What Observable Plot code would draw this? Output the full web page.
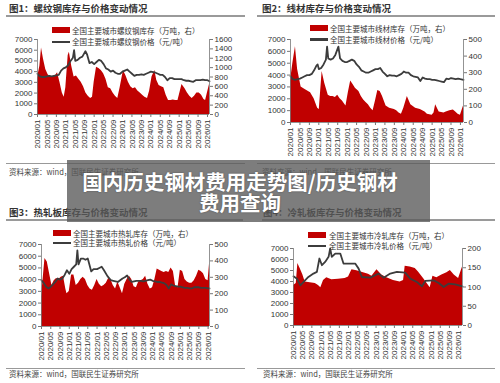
<!DOCTYPE html>
<html><head><meta charset="utf-8">
<script src="https://cdn.jsdelivr.net/npm/d3@7"></script>
<script src="https://cdn.jsdelivr.net/npm/@observablehq/plot@0.6"></script>
<style>
body{margin:0;background:#fff;}
#root{position:relative;width:500px;height:383px;overflow:hidden;background:#fff;font-family:"Noto Sans CJK SC","Noto Sans",sans-serif;}
.abs{position:absolute;}
.title{font-size:9.5px;font-weight:bold;color:#333;white-space:nowrap;line-height:1;}
.rule{height:1.5px;background:#9a9a9a;}
.src{font-size:7.5px;color:#444;white-space:nowrap;line-height:1;}
.leg{font-size:7.5px;color:#333;white-space:nowrap;line-height:1;}
.overlay{background:rgba(88,88,88,0.78);}
.otext{color:#fff;font-weight:bold;font-size:20.5px;line-height:21px;text-align:center;text-shadow:0 0 2px rgba(0,0,0,0.35);}
</style></head><body><div id="root"></div><script>
// ---- tick labels ----
const xTicks = [0,4,8,12,16,20,24,28,32,36,40,44,48,52,56,60,64,68,72];
const xTickLabels = ["2020/01","2020/05","2020/09","2021/01","2021/05","2021/09","2022/01","2022/05","2022/09","2023/01","2023/05","2023/09","2024/01","2024/05","2024/09","2025/01","2025/05","2025/09","2026/01"];
const leftTicks = [0,1000,2000,3000,4000,5000,6000,7000];
const rightTicks1 = [0,200,400,600,800,1000,1200,1400,1600];
const rightTicks2 = [0,100,200,300,400,500];
const rightTicks3 = [0,100,200,300,400,500];
const rightTicks4 = [0,50,100,150,200];

// ---- texts ----
const titles = ["图1：螺纹钢库存与价格变动情况","图2：线材库存与价格变动情况","图3：热轧板库存与价格变动情况","图4：冷轧板库存与价格变动情况"];
const stockLabels = ["全国主要城市螺纹钢库存（万吨，右）","全国主要城市线材库存（万吨，右）","全国主要城市热轧库存（万吨，右）","全国主要城市冷轧库存（万吨，右）"];
const priceLabels = ["全国主要城市螺纹钢价格（元/吨）","全国主要城市线材价格（元/吨）","全国主要城市热轧价格（元/吨）","全国主要城市冷轧价格（元/吨）"];
const sourceText = "资料来源：wind，国联民生证券研究所";
const overlayLines = ["国内历史钢材费用走势图/历史钢材","费用查询"];

// ---- data: [months since 2020/01, value] ----
// 螺纹钢 inventory (万吨, right axis) and price (元/吨, left axis)
const rebarStock = [[0,777],[1,1029],[1.7,1417],[2.5,1189],[3.5,960],[4.5,846],[5.5,800],[6.5,800],[7.5,823],[8.5,891],[9.5,686],[10.5,457],[11.3,366],[12,571],[13,1257],[13.5,1326],[14.5,1029],[15.5,800],[16.5,823],[17.5,754],[18.5,686],[19.5,594],[20.5,457],[21.5,389],[22.5,343],[23.3,366],[24,686],[25,1006],[26,983],[27,937],[28,869],[29,754],[30,571],[31,549],[32,457],[33,389],[34,343],[35,571],[36.4,937],[37.5,823],[38.5,686],[39.5,594],[40.5,549],[41.5,571],[42.5,503],[43.5,457],[44.5,411],[45.5,366],[46.6,343],[47.5,503],[48.5,800],[49.7,937],[50.5,731],[51.5,617],[52.5,594],[53.5,571],[54.5,411],[55.5,297],[56.5,297],[57.5,309],[58.5,297],[59.5,297],[60.3,457],[61.2,640],[62.5,549],[63.5,457],[64.5,389],[65.5,343],[66.5,389],[67.5,457],[68.5,457],[69.5,411],[70.5,320],[71.2,297],[72.85,640]];
const rebarPrice = [[0,3800],[1,3550],[2,3500],[3,3500],[4,3550],[5,3600],[6,3550],[7,3600],[8,3650],[9,3700],[10,4100],[11,4300],[12,4400],[13,4600],[14,5000],[15,5300],[15.5,6000],[16,5000],[17,5100],[18,5300],[19,5400],[20.3,5900],[21,5600],[22,4800],[23,4900],[24,4700],[25,4900],[26,5100],[27,5000],[28,4700],[29,4300],[30,4200],[31,4000],[32,4100],[33,3900],[34,3800],[35,3800],[36,4000],[37,4100],[38,4200],[39,4000],[40,3800],[41,3600],[42,3700],[43,3700],[44,3750],[45,3700],[46,3800],[47,3900],[48,4000],[49,3950],[50,3900],[51,3800],[52,3700],[53,3700],[54,3500],[55,3200],[56,3400],[57,3400],[58,3300],[59,3300],[60,3300],[61,3300],[62,3200],[63,3150],[64,3150],[65,3100],[66,3050],[67,3200],[68,3200],[69,3200],[70,3250],[71,3200],[72,3200],[72.85,3100]];
// 线材
const wireStock = [[0,250],[1,357],[2.1,457],[3,321],[4.5,214],[6,200],[8.5,179],[10,143],[11.5,86],[12.2,79],[13.4,307],[14.5,236],[16,164],[17,157],[18,157],[19,150],[20,164],[21,143],[22,129],[23.5,100],[24.5,179],[25.5,250],[26.5,229],[27.5,207],[29,186],[30,157],[31,136],[32,121],[33,107],[34,86],[35,71],[36,129],[37,193],[38,186],[39,157],[40.5,100],[42,86],[44,79],[45,71],[46,57],[47,50],[48,86],[49.5,157],[51,107],[53,86],[55,79],[57,64],[58,50],[60,43],[60.8,57],[61.5,107],[63,64],[65,57],[66,64],[67.5,71],[69,75],[70,64],[71,50],[72,43],[73.3,100]];
const wirePrice = [[0,3900],[1,3650],[2,3600],[3,3650],[4,3700],[5,3800],[6,3900],[7,4000],[8,4000],[9,4100],[10,4400],[11,4800],[11.5,4900],[12,4500],[13,4600],[14,4900],[15,5300],[15.5,6400],[16,5400],[17,5300],[18,5400],[19,5700],[20.3,6400],[21,5400],[22,5200],[23,5100],[24,5100],[25,5200],[26,5300],[27,5200],[28,4900],[29,4700],[30,4400],[31,4300],[32,4200],[33,4200],[34,4300],[35,4400],[36,4500],[37,4500],[38,4600],[39,4300],[40,4100],[41,3900],[42,4000],[43,3950],[44,3950],[45,3900],[46,4000],[47,4100],[48,4300],[49,4200],[50,4200],[51,4000],[52,3900],[53,3850],[54,3800],[55,3500],[56,3800],[57,3700],[58,3650],[59,3650],[60,3600],[61,3600],[62,3550],[63,3500],[64,3450],[65,3400],[66,3700],[67,3650],[68,3750],[69,3700],[70,3650],[71,3700],[72,3650],[73.3,3600]];
// 热轧
const hotStock = [[0,179],[1.5,414],[2.5,393],[3.5,321],[4.5,250],[5.5,279],[6.5,293],[7.5,286],[8.5,300],[9.5,307],[10.5,229],[11,200],[12,214],[13,314],[14,314],[15,250],[16,264],[17,286],[18,300],[19,286],[20,250],[21,229],[22,221],[23,250],[24,286],[25,257],[26,243],[27,250],[28,264],[29,293],[30,286],[31,250],[32,229],[33,271],[34,236],[35,200],[36,257],[37,286],[38,307],[39,286],[40,243],[41,236],[42,271],[43,279],[44,286],[45,307],[46,257],[47,229],[48,236],[49,286],[50,350],[51,343],[52,336],[53,329],[54,336],[55,329],[56,357],[57,336],[58,243],[59,236],[60,343],[61,336],[62,286],[63,271],[64,264],[65,264],[66,279],[67,307],[68,343],[69,336],[70,321],[71,286],[72,279],[72.6,379]];
const hotPrice = [[0,3950],[1,3700],[2,3400],[3,3250],[4,3400],[5,3600],[6,3800],[7,4100],[8,4000],[9,4100],[10,4400],[11,4800],[12,4500],[13,4900],[14,5100],[15,5300],[15.5,6500],[16,5300],[17,5800],[18,5800],[19,5700],[20,5800],[21.5,4700],[22.5,4900],[24,4900],[25,5000],[26,5100],[27,4800],[28.5,4300],[30,3950],[31,3900],[32,3850],[33,3800],[34,3950],[35,4100],[36,4200],[37,4350],[38,4000],[39,3800],[40,3850],[41,3900],[42,3900],[43,3900],[44,3850],[45,3900],[46,3950],[47,4000],[48,3900],[49,3850],[50,3800],[51,3800],[52,3750],[53,3700],[54,3550],[55,3250],[56,3600],[57,3500],[58,3450],[59,3400],[60,3400],[61,3350],[62,3300],[63,3300],[64,3250],[65,3250],[66,3350],[67,3350],[68,3350],[69,3300],[70,3300],[71,3300],[72,3250],[72.6,3250]];
// 冷轧
const coldStock = [[0,104],[1.2,109],[1.9,161],[2.9,148],[4.1,131],[5.1,113],[7.3,111],[9.5,109],[10.9,104],[11.9,98],[13.1,117],[14.5,124],[16.7,119],[19.6,120],[22.5,122],[24,126],[25.5,145],[27.6,142],[30.5,137],[32.7,133],[34.2,128],[36.4,145],[38.5,131],[40.7,124],[43.6,117],[46.5,113],[48,117],[48.7,154],[50.9,152],[53.1,148],[54.5,139],[56.7,122],[58.9,104],[59.6,98],[60.8,128],[62.5,124],[64.7,131],[66.9,137],[68.4,143],[70.1,131],[72,122],[73.7,152]];
const coldPrice = [[0,4470],[1.5,4260],[3,3650],[4.4,3960],[6.5,4410],[8.7,4720],[10.2,4870],[11.3,6090],[12.4,5480],[13.8,5780],[15.3,6240],[16,7000],[16.7,6240],[18.2,6540],[20.4,6540],[21.8,5630],[24.7,5630],[26.9,5630],[28.4,5170],[29.8,4410],[33.5,4350],[35.6,4570],[37.1,4720],[39.3,4350],[42.2,4720],[45.1,4870],[48.7,4810],[50.9,4260],[53.8,3960],[56,3560],[57.5,4050],[61.1,4110],[63.3,3870],[65.5,3500],[67.6,3800],[70.5,3740],[73.7,3560]];

// ---- layout ----
const panels = [
  {stock:rebarStock, price:rebarPrice, rt:rightTicks1, rmax:1600, left:0, top:20, height:134, ml:37, mr:41, xmax:72.85,
   tx:9, ty:4, rule:[6,15,239], brule:[6,163,239], srcY:168, leg:[52,27,72,42]},
  {stock:wireStock, price:wirePrice, rt:rightTicks2, rmax:500, left:250, top:20, height:142, ml:40, mr:37, xmax:73.3,
   tx:262, ty:4, rule:[257,15,238], brule:[257,163,238], srcY:168, leg:[310,25,330,39.5]},
  {stock:hotStock, price:hotPrice, rt:rightTicks3, rmax:500, left:0, top:225, height:141, ml:41, mr:41, xmax:72.6,
   tx:9, ty:208, rule:[6,219,237], brule:[6,368,239], srcY:370, leg:[53,230,73,243]},
  {stock:coldStock, price:coldPrice, rt:rightTicks4, rmax:200, left:250, top:229, height:136, ml:43, mr:38, xmax:73.7,
   tx:263, ty:208, rule:[262,219,233], brule:[257,368,238], srcY:370, leg:[308,232,329,246]}
];

const root = document.getElementById("root");
function div(cls, css, text) {
  const d = document.createElement("div");
  d.className = "abs " + cls;
  Object.assign(d.style, css);
  if (text != null) d.textContent = text;
  root.appendChild(d);
  return d;
}

panels.forEach((p, i) => {
  const k = 7000 / p.rmax;
  const stock = p.stock.map(([m, v]) => ({m, v}));
  const price = p.price.map(([m, v]) => ({m, v}));
  const chart = Plot.plot({
    width: 250, height: p.height,
    marginTop: 19, marginBottom: 40, marginLeft: p.ml, marginRight: p.mr,
    x: {domain: [0, p.xmax], axis: null, label: null},
    y: {domain: [0, 7000], axis: null, label: null},
    style: {fontSize: "8px", fontFamily: "'Liberation Sans', Arial, sans-serif", color: "#333", background: "transparent", overflow: "visible"},
    marks: [
      Plot.areaY(stock, {x: "m", y: d => d.v * k, fill: "#c00000"}),
      Plot.line(price, {x: "m", y: "v", stroke: "#3c3c3c", strokeWidth: 1.8}),
      Plot.ruleX([0, p.xmax], {stroke: "#777", strokeWidth: 0.8}),
      Plot.ruleY([0], {stroke: "#777", strokeWidth: 0.8}),
      Plot.axisY(leftTicks, {anchor: "left", label: null, tickSize: 3, tickPadding: 2, stroke: "#777", tickFormat: d => String(d)}),
      Plot.axisY(p.rt.map(v => v * k), {anchor: "right", label: null, tickSize: 3, tickPadding: 2, stroke: "#777", tickFormat: d => String(Math.round(d / k))}),
      Plot.axisX(xTicks, {anchor: "bottom", label: null, tickSize: 3, tickPadding: 2, stroke: "#777", tickRotate: -90, tickFormat: d => xTickLabels[xTicks.indexOf(d)]})
    ]
  });
  chart.style.position = "absolute";
  chart.style.left = p.left + "px";
  chart.style.top = p.top + "px";
  root.appendChild(chart);

  div("title", {left: p.tx + "px", top: p.ty + "px"}, titles[i]);
  div("rule", {left: p.rule[0] + "px", top: p.rule[1] + "px", width: p.rule[2] + "px"});
  div("rule", {left: p.brule[0] + "px", top: p.brule[1] + "px", width: p.brule[2] + "px", height: "1px", background: "#999"});
  div("src", {left: (p.tx) + "px", top: p.srcY + "px"}, sourceText);
  // legend
  const [sx, sy, lx, ly] = p.leg;
  div("", {left: sx + "px", top: sy + "px", width: "18px", height: "6px", background: "#c00000"});
  div("leg", {left: lx + "px", top: (sy - 0.5) + "px"}, stockLabels[i]);
  div("", {left: sx + "px", top: (ly - 1.2) + "px", width: "18px", height: "2.5px", background: "#3c3c3c"});
  div("leg", {left: lx + "px", top: (ly - 4) + "px"}, priceLabels[i]);
});

div("overlay", {left: "67px", top: "160px", width: "363px", height: "62px"});
const ot = div("otext", {left: "40px", top: "171px", width: "400px"});
ot.innerHTML = overlayLines.join("<br>");
</script></body></html>
